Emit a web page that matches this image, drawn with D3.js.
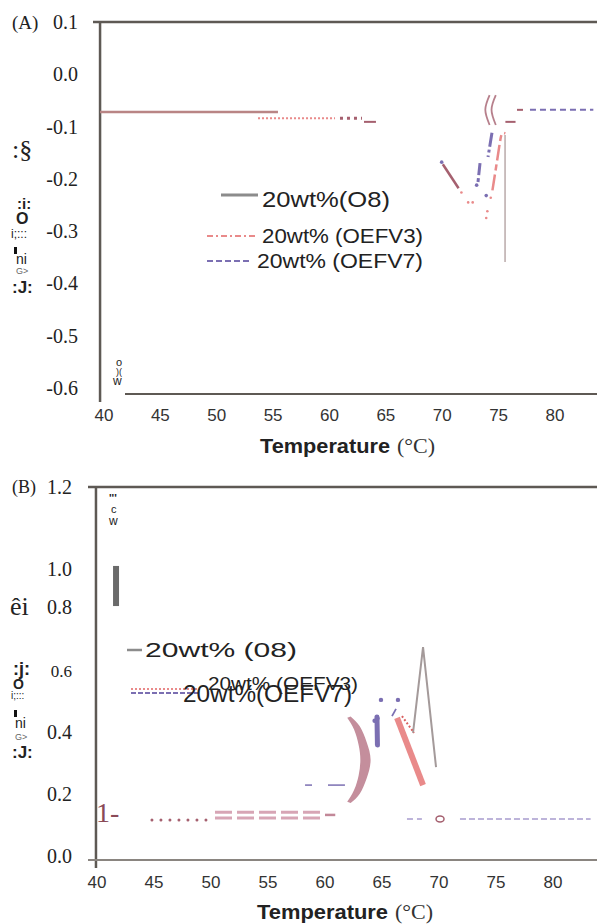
<!DOCTYPE html>
<html><head><meta charset="utf-8">
<script src="https://cdn.jsdelivr.net/npm/d3@7"></script>
<style>
html,body{margin:0;padding:0;background:#fff;}
svg{display:block;}
.serif{font-family:"Liberation Serif","DejaVu Serif",serif;}
.sans{font-family:"Liberation Sans",Arial,sans-serif;}
</style></head>
<body>
<svg id="c" width="597" height="924"></svg>
<script>
// ---------- data ----------
const xTicks = [40,45,50,55,60,65,70,75,80];
const yTicksA = [0.1,0.0,-0.1,-0.2,-0.3,-0.4,-0.5,-0.6];
const yTicksB = [1.2,1.0,0.8,0.6,0.4,0.2,0.0];
const legendLabels = ["20wt%(O8)","20wt% (OEFV3)","20wt% (OEFV7)"];
const legendLabelsB = ["20wt% (08)","20wt% (OEFV3)","20wt%(OEFV7)"];

// Panel A series fragments [temperature, heat flow]
const o8FlatA = [[39.65,-0.072],[55.43,-0.072]];
const o8DropA = [[75.57,-0.116],[75.57,-0.359]];
const v3DotsA = [[53.66,-0.084],[60.49,-0.084]];
const maroonDotsA = [[60.93,-0.084],[62.88,-0.084]];
const maroonDashA = [[63.06,-0.091],[64.12,-0.091]];
const maroonUnderA = [[75.6,-0.091],[76.5,-0.091]];
const maroonShortA = [[76.63,-0.068],[77.16,-0.068]];
const v7DashA = [[77.78,-0.068],[83.4,-0.068]];
const maroonSlashA = [[70.05,-0.172],[71.45,-0.218]];
const v7SegA1 = [[74.41,-0.112],[74.06,-0.158]];
const v7SegA2 = [[73.35,-0.170],[73.17,-0.206]];
const v3HookA = [[74.45,-0.222],[74.9,-0.16],[75.2,-0.12],[75.4,-0.112],[75.6,-0.113]];
const arcA1 = [[74.2,-0.04],[73.82,-0.068],[74.2,-0.097]];
const arcA2 = [[74.75,-0.04],[74.37,-0.068],[74.75,-0.097]];
const v3DotPtsA = [[72.3,-0.245],[72.7,-0.245],[74.0,-0.262],[73.9,-0.275],[74.3,-0.236],[71.7,-0.226]];
const v7DotPtsA = [[69.95,-0.168],[73.05,-0.212],[73.9,-0.232]];

// Panel B series fragments
const o8BarB = [[41.67,0.946],[41.67,0.817]];
const o8PeakB = [[67.72,0.409],[68.6,0.685],[69.74,0.299]];
const maroonDotsB = [[44.82,0.129],[50.18,0.129]];
const v3DoubleTopB = [[50.35,0.154],[59.6,0.154]];
const v3DoubleBotB = [[50.35,0.135],[59.6,0.135]];
const v3SingleB = [[60.0,0.145],[60.9,0.145]];
const v7DashB1 = [[58.25,0.241],[58.86,0.241]];
const v7DashB2 = [[60.26,0.241],[61.75,0.241]];
const maroonArcOuterB = [[62.25,0.462],[63.05,0.43],[63.65,0.38],[64.0,0.322],[63.65,0.262],[63.05,0.213],[62.25,0.183]];
const maroonArcInnerB = [[61.95,0.458],[62.55,0.42],[62.95,0.37],[63.1,0.322],[62.95,0.272],[62.55,0.225],[61.95,0.187]];
const v7BlobB = [[64.56,0.46],[64.6,0.37]];
const v7DotPtsB = [[64.91,0.515],[66.4,0.515],[64.35,0.448],[64.6,0.455]];
const v7SlashB = [[65.88,0.463],[66.23,0.486]];
const v3SlashB = [[66.32,0.457],[68.6,0.241]];
const v3DotB = [[66.75,0.463],[67.81,0.409]];
const v7LightB1 = [[67.19,0.132],[68.5,0.132]];
const v7LightB2 = [[71.84,0.132],[83.3,0.132]];
const circleB = [[70.09,0.132]];

// ---------- colours ----------
const AX = "#5e5954", GRAY = "#8c8c8c", PINK = "#e98a8a", MAROON = "#a5606f",
      PURPLE = "#7b6fb2", LPURPLE = "#bdb4da", BROWN = "#b98585";

const svg = d3.select("#c");

// ---------- scales ----------
const xA = d3.scaleLinear([40,80],[104,555]);
const yA = d3.scaleLinear([-0.6,0.1],[388,22]);
const xB = d3.scaleLinear([40,80],[97,553]);
const yB = d3.scaleLinear([0,1.2],[860,487]);

function seg(g, data, xs, ys, style, curve){
  const line = d3.line().x(d=>xs(d[0])).y(d=>ys(d[1]));
  if(curve) line.curve(curve);
  const p = g.append("path").datum(data).attr("d",line).attr("fill","none");
  for(const k in style) p.attr(k, style[k]);
  return p;
}
function txt(x,y,s,size,cls,opts={}){
  const t = svg.append("text").attr("x",x).attr("y",y).attr("class",cls)
    .attr("font-size",size).attr("fill",opts.fill||"#222").text(s);
  if(opts.weight) t.attr("font-weight",opts.weight);
  if(opts.anchor) t.attr("text-anchor",opts.anchor);
  if(opts.len) t.attr("textLength",opts.len).attr("lengthAdjust","spacingAndGlyphs");
  return t;
}

// ================= PANEL A =================
const gA = svg.append("g");
gA.append("line").attr("x1",93).attr("x2",597).attr("y1",yA(0.1)).attr("y2",yA(0.1)).attr("stroke",AX).attr("stroke-width",2.5);
gA.append("line").attr("x1",xA(39.65)).attr("x2",xA(39.65)).attr("y1",yA(0.1)).attr("y2",402).attr("stroke",AX).attr("stroke-width",2.5);
gA.append("line").attr("x1",125).attr("x2",597).attr("y1",394).attr("y2",394).attr("stroke",AX).attr("stroke-width",2);
yTicksA.forEach(v=>{
  txt(78, yA(v)+7, d3.format(".1f")(v).replace("−","-"), 20, "serif", {anchor:"end"});
});
txt(12, 29, "(A)", 19, "serif");
xTicks.forEach(v=> txt(xA(v), 421, v, 17, "sans", {anchor:"middle", fill:"#333"}));
txt(260, 453, "Temperature", 20, "sans", {weight:"bold", len:130});
txt(397, 453, "(°C)", 22, "serif", {fill:"#333"});
// garbled y label
txt(12, 158, ":§", 26, "serif");
txt(17, 209, ":i:", 15, "sans", {weight:"bold"});
txt(16, 224, "O", 16, "sans", {weight:"bold"});
txt(11, 238, "i;:::", 12, "sans");
gA.append("rect").attr("x",14).attr("y",247).attr("width",3).attr("height",7).attr("fill","#111");
txt(16, 264, "ni", 14, "sans");
txt(16, 274, "G>", 9, "sans", {fill:"#666"});
txt(12, 293, ":J:", 17, "sans", {weight:"bold"});
txt(116, 366, "o", 11, "sans"); txt(116, 375, ")(", 9, "sans"); txt(113, 385, "w", 12, "sans");

seg(gA, o8FlatA, xA, yA, {stroke:BROWN, "stroke-width":2.5});
seg(gA, o8DropA, xA, yA, {stroke:"#b9a9a9", "stroke-width":1.5});
seg(gA, v3DotsA, xA, yA, {stroke:PINK, "stroke-width":2, "stroke-dasharray":"2,2"});
seg(gA, maroonDotsA, xA, yA, {stroke:MAROON, "stroke-width":3, "stroke-dasharray":"3,4"});
seg(gA, maroonDashA, xA, yA, {stroke:MAROON, "stroke-width":2});
seg(gA, maroonUnderA, xA, yA, {stroke:MAROON, "stroke-width":2});
seg(gA, maroonShortA, xA, yA, {stroke:MAROON, "stroke-width":2});
seg(gA, v7DashA, xA, yA, {stroke:PURPLE, "stroke-width":2, "stroke-dasharray":"6,4"});
seg(gA, maroonSlashA, xA, yA, {stroke:MAROON, "stroke-width":2.5});
seg(gA, v7SegA1, xA, yA, {stroke:PURPLE, "stroke-width":3, "stroke-dasharray":"14,3,3,3"});
seg(gA, v7SegA2, xA, yA, {stroke:PURPLE, "stroke-width":3, "stroke-dasharray":"12,3"});
seg(gA, v3HookA, xA, yA, {stroke:PINK, "stroke-width":2.5, "stroke-dasharray":"16,4,6,4"}, d3.curveNatural);
seg(gA, arcA1, xA, yA, {stroke:MAROON, "stroke-width":1.8, "stroke-opacity":0.8}, d3.curveNatural);
seg(gA, arcA2, xA, yA, {stroke:MAROON, "stroke-width":1.8, "stroke-opacity":0.8}, d3.curveNatural);
gA.selectAll(".v3d").data(v3DotPtsA).join("circle").attr("cx",d=>xA(d[0])).attr("cy",d=>yA(d[1])).attr("r",1.3).attr("fill",PINK);
gA.selectAll(".v7d").data(v7DotPtsA).join("circle").attr("cx",d=>xA(d[0])).attr("cy",d=>yA(d[1])).attr("r",1.8).attr("fill",PURPLE);

// legend A
gA.append("line").attr("x1",221).attr("x2",258).attr("y1",195).attr("y2",195).attr("stroke",GRAY).attr("stroke-width",3);
txt(262, 207, legendLabels[0], 22, "sans", {len:128});
gA.append("line").attr("x1",207).attr("x2",258).attr("y1",236).attr("y2",236).attr("stroke",PINK).attr("stroke-width",2).attr("stroke-dasharray","6,3,2,3");
txt(262, 243, legendLabels[1], 21, "sans", {len:161});
gA.append("line").attr("x1",207).attr("x2",250).attr("y1",261).attr("y2",261).attr("stroke",PURPLE).attr("stroke-width",2).attr("stroke-dasharray","6,3");
txt(257, 268, legendLabels[2], 21, "sans", {len:166});

// ================= PANEL B =================
const gB = svg.append("g");
gB.append("line").attr("x1",88).attr("x2",597).attr("y1",yB(1.2)).attr("y2",yB(1.2)).attr("stroke",AX).attr("stroke-width",2.5);
gB.append("line").attr("x1",xB(39.91)).attr("x2",xB(39.91)).attr("y1",yB(1.2)).attr("y2",868).attr("stroke",AX).attr("stroke-width",2.5);
gB.append("line").attr("x1",88).attr("x2",597).attr("y1",yB(0)).attr("y2",yB(0)).attr("stroke","#8a8580").attr("stroke-width",2);
const nudgeB = {"1.0":24, "1.2":4};
yTicksB.forEach(v=>{
  const s = d3.format(".1f")(v);
  txt(72, yB(v)+3+(nudgeB[s]||0), s, v===0.6?17:20, "serif", {anchor:"end"});
});
txt(12, 493, "(B)", 18, "serif");
xTicks.forEach(v=> txt(xB(v), 888, v, 17, "sans", {anchor:"middle", fill:"#333"}));
txt(257, 919, "Temperature", 20, "sans", {weight:"bold", len:131});
txt(395, 919, "(°C)", 22, "serif", {fill:"#333"});
// garbled labels
txt(10, 615, "êi", 26, "serif");
txt(13, 675, ":j:", 18, "sans", {weight:"bold"});
txt(13, 689, "O", 14, "sans", {weight:"bold"});
txt(11, 699, "i;:::", 10, "sans");
gB.append("rect").attr("x",14).attr("y",710).attr("width",3).attr("height",7).attr("fill","#111");
txt(15, 728, "ni", 14, "sans");
txt(15, 740, "G>", 9, "sans", {fill:"#666"});
txt(12, 758, ":J:", 17, "sans", {weight:"bold"});
txt(109, 502, "'''", 11, "sans", {weight:"bold"});
txt(111, 513, "c", 11, "sans");
txt(109, 525, "w", 12, "sans");
txt(96, 822, "1-", 28, "serif", {fill:"#8a4a58"});

seg(gB, o8BarB, xB, yB, {stroke:"#6a6a6a", "stroke-width":6});
seg(gB, o8PeakB, xB, yB, {stroke:"#a49a9a", "stroke-width":2});
seg(gB, maroonDotsB, xB, yB, {stroke:MAROON, "stroke-width":3, "stroke-dasharray":"0,9", "stroke-linecap":"round"});
seg(gB, v3DoubleTopB, xB, yB, {stroke:"#d7a5b5", "stroke-width":3, "stroke-dasharray":"17,5"});
seg(gB, v3DoubleBotB, xB, yB, {stroke:"#d7a5b5", "stroke-width":3, "stroke-dasharray":"17,5"});
seg(gB, v3SingleB, xB, yB, {stroke:"#c28898", "stroke-width":2.5});
seg(gB, v7DashB1, xB, yB, {stroke:PURPLE, "stroke-width":1.5});
seg(gB, v7DashB2, xB, yB, {stroke:PURPLE, "stroke-width":1.5});
{
  const lineO = d3.line().x(d=>xB(d[0])).y(d=>yB(d[1])).curve(d3.curveNatural);
  const outer = lineO(maroonArcOuterB);
  const inner = lineO(maroonArcInnerB.slice().reverse());
  gB.append("path").attr("d", outer + "L" + inner.slice(1) + "Z").attr("fill","#c48e9c");
}
seg(gB, v7BlobB, xB, yB, {stroke:PURPLE, "stroke-width":5, "stroke-linecap":"round"});
gB.selectAll(".v7b").data(v7DotPtsB).join("circle").attr("cx",d=>xB(d[0])).attr("cy",d=>yB(d[1])).attr("r",2.2).attr("fill",PURPLE);
seg(gB, v7SlashB, xB, yB, {stroke:PURPLE, "stroke-width":1.8});
seg(gB, v3SlashB, xB, yB, {stroke:PINK, "stroke-width":6});
seg(gB, v3DotB, xB, yB, {stroke:"#d86060", "stroke-width":2, "stroke-dasharray":"2,2"});
seg(gB, v7LightB1, xB, yB, {stroke:LPURPLE, "stroke-width":2, "stroke-dasharray":"6,4"});
seg(gB, v7LightB2, xB, yB, {stroke:LPURPLE, "stroke-width":2, "stroke-dasharray":"6,3"});
gB.selectAll(".cb").data(circleB).join("ellipse").attr("cx",d=>xB(d[0])).attr("cy",d=>yB(d[1])).attr("rx",4).attr("ry",3).attr("fill","none").attr("stroke",MAROON).attr("stroke-width",1.5);

// legend B
gB.append("line").attr("x1",127).attr("x2",142).attr("y1",650).attr("y2",650).attr("stroke",GRAY).attr("stroke-width",2.5);
txt(145, 657, legendLabelsB[0], 21, "sans", {len:152});
gB.append("line").attr("x1",131).attr("x2",200).attr("y1",689).attr("y2",689).attr("stroke",PINK).attr("stroke-width",1.8).attr("stroke-dasharray","2,2");
gB.append("line").attr("x1",131).attr("x2",200).attr("y1",693).attr("y2",693).attr("stroke",PURPLE).attr("stroke-width",1.8).attr("stroke-dasharray","5,2");
txt(208, 690, legendLabelsB[1], 19, "sans", {len:150});
txt(183, 702, legendLabelsB[2], 24, "sans", {len:169});
</script>
</body></html>
